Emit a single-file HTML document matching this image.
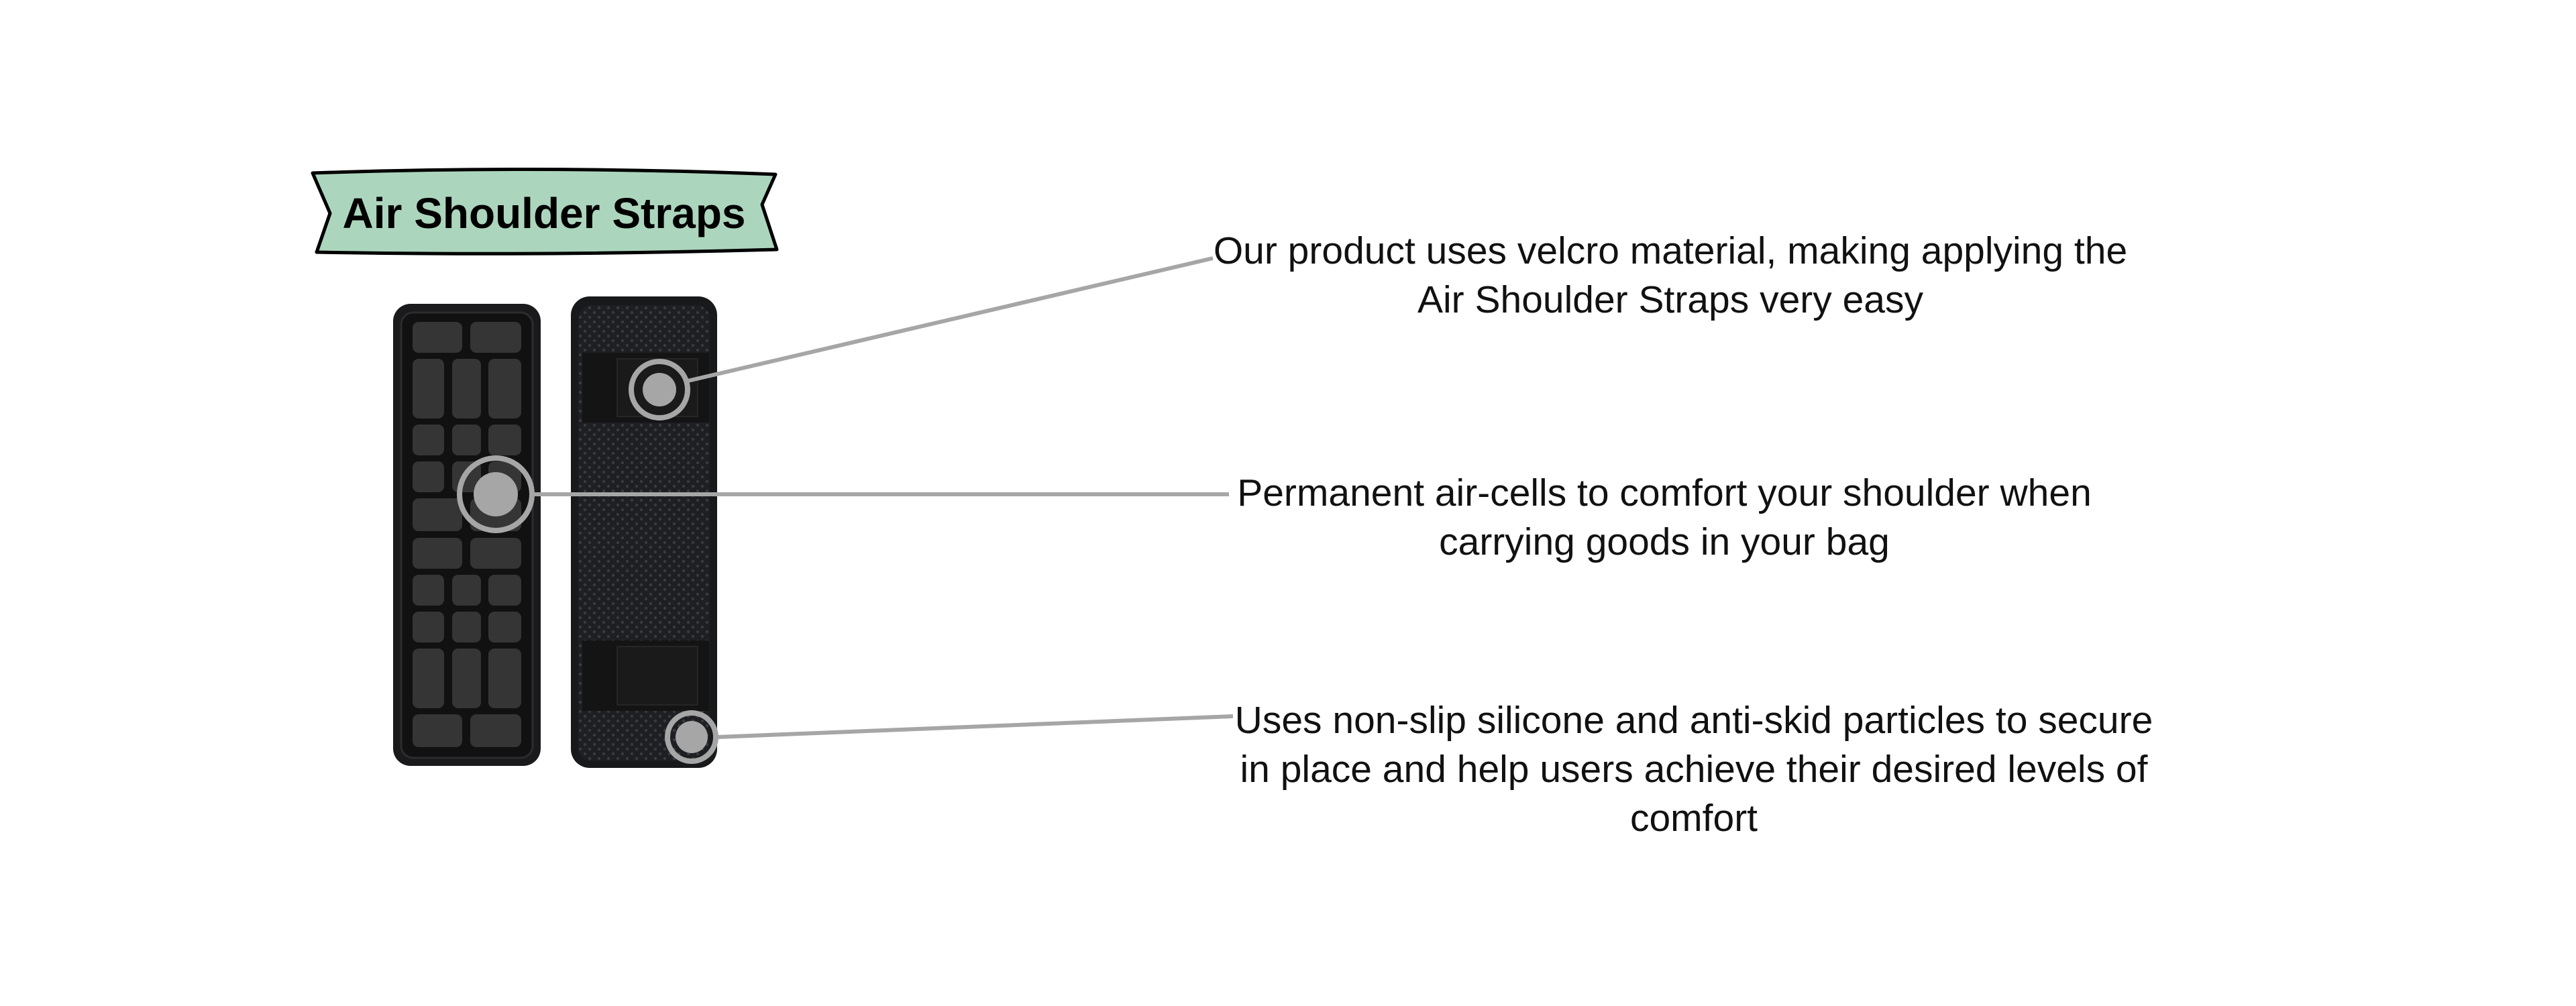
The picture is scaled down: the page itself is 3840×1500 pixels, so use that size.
<!DOCTYPE html>
<html><head><meta charset="utf-8"><style>
html,body{margin:0;padding:0;background:#fff;}
body{width:3840px;height:1500px;overflow:hidden;position:relative;}
svg{position:absolute;left:0;top:0;}
.t{position:absolute;font-family:"Liberation Sans",sans-serif;font-size:57px;line-height:73px;color:#111;text-align:center;white-space:nowrap;}
</style></head><body>
<svg width="3840" height="1500" viewBox="0 0 3840 1500">
<defs>
<pattern id="dots" width="14" height="14" patternUnits="userSpaceOnUse">
<rect width="14" height="14" fill="#1e1f22"/>
<circle cx="4" cy="4" r="2.2" fill="#3a3b3f"/>
<circle cx="11" cy="11" r="2.2" fill="#3a3b3f"/>
</pattern>
</defs>
<path d="M466,258 Q810,246 1156,260 L1136,305 L1158,372 Q810,382 472,376 L492,318 Z" fill="#acd5bd" stroke="#000" stroke-width="5" stroke-linejoin="round"/>
<text x="811" y="340" text-anchor="middle" font-family="Liberation Sans, sans-serif" font-weight="bold" font-size="64" fill="#000">Air Shoulder Straps</text>

<rect x="586" y="453" width="220" height="689" rx="26" fill="#1a1a1c"/>
<rect x="598" y="466" width="196" height="664" rx="18" fill="#111" stroke="#2c2c2e" stroke-width="3"/>
<g fill="#363536">
<rect x="615" y="480" width="74" height="46" rx="9"/><rect x="701" y="480" width="76" height="46" rx="9"/>
<rect x="615" y="535" width="47" height="89" rx="9"/><rect x="674" y="535" width="43" height="89" rx="9"/><rect x="728" y="535" width="49" height="89" rx="9"/>
<rect x="615" y="633" width="47" height="46" rx="9"/><rect x="674" y="633" width="43" height="46" rx="9"/><rect x="728" y="633" width="49" height="46" rx="9"/>
<rect x="615" y="688" width="47" height="46" rx="9"/><rect x="674" y="688" width="43" height="46" rx="9"/><rect x="728" y="688" width="49" height="46" rx="9"/>
<rect x="615" y="743" width="74" height="49" rx="9"/><rect x="701" y="743" width="76" height="49" rx="9"/>
<rect x="615" y="802" width="74" height="46" rx="9"/><rect x="701" y="802" width="76" height="46" rx="9"/>
<rect x="615" y="857" width="47" height="46" rx="9"/><rect x="674" y="857" width="43" height="46" rx="9"/><rect x="728" y="857" width="49" height="46" rx="9"/>
<rect x="615" y="912" width="47" height="46" rx="9"/><rect x="674" y="912" width="43" height="46" rx="9"/><rect x="728" y="912" width="49" height="46" rx="9"/>
<rect x="615" y="967" width="47" height="89" rx="9"/><rect x="674" y="967" width="43" height="89" rx="9"/><rect x="728" y="967" width="49" height="89" rx="9"/>
<rect x="615" y="1065" width="74" height="49" rx="9"/><rect x="701" y="1065" width="76" height="49" rx="9"/>
</g>

<rect x="851" y="442" width="218" height="703" rx="28" fill="#18191b"/>
<rect x="862" y="455" width="196" height="680" rx="20" fill="url(#dots)"/>
<rect x="868" y="526" width="189" height="104" fill="#141414"/>
<rect x="920" y="535" width="120" height="86" fill="#1a1a1a" stroke="#262626" stroke-width="2"/>
<rect x="868" y="955" width="189" height="105" fill="#141414"/>
<rect x="920" y="964" width="120" height="87" fill="#1a1a1a" stroke="#262626" stroke-width="2"/>

<g stroke="#a6a6a6" stroke-width="6" fill="none">
<line x1="1025" y1="568" x2="1808" y2="385"/>
<line x1="796" y1="737" x2="1832" y2="737"/>
<line x1="1070" y1="1099" x2="1838" y2="1068"/>
</g>
<g fill="none" stroke="#a6a6a6" stroke-width="8">
<circle cx="983" cy="581" r="42"/>
<circle cx="739" cy="737" r="54"/>
<circle cx="1031" cy="1099" r="36"/>
</g>
<g fill="#a6a6a6">
<circle cx="983" cy="581" r="25"/>
<circle cx="739" cy="737" r="33"/>
<circle cx="1031" cy="1099" r="24"/>
</g>
</svg>
<div class="t" style="left:1790px;top:338px;width:1400px;">Our product uses velcro material, making applying the<br>Air Shoulder Straps very easy</div>
<div class="t" style="left:1781px;top:699px;width:1400px;">Permanent air-cells to comfort your shoulder when<br>carrying goods in your bag</div>
<div class="t" style="left:1825px;top:1038px;width:1400px;">Uses non-slip silicone and anti-skid particles to secure<br>in place and help users achieve their desired levels of<br>comfort</div>
</body></html>
